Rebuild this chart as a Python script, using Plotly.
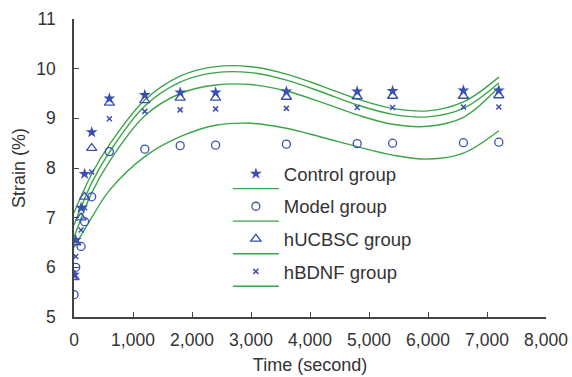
import plotly.graph_objects as go

# Measurement times (seconds)
times = [0, 30, 120, 180, 300, 600, 1200, 1800, 2400, 3600, 4800, 5400, 6600, 7200]

control = [5.85, 6.55, 7.2, 7.88, 8.72, 9.4, 9.47, 9.52, 9.52, 9.54, 9.54, 9.55, 9.56, 9.56]
model = [5.45, 6.0, 6.42, 6.92, 7.42, 8.33, 8.38, 8.45, 8.46, 8.48, 8.49, 8.5, 8.51, 8.52]
hucbsc = [5.8, 6.5, 7.0, 7.42, 8.4, 9.31, 9.36, 9.41, 9.41, 9.43, 9.44, 9.45, 9.45, 9.46]
hbdnf = [5.85, 6.22, 6.75, 7.2, 7.92, 8.99, 9.14, 9.17, 9.19, 9.2, 9.22, 9.22, 9.23, 9.23]

# Fitted trend curves
fit_t = [0, 300, 600, 1200, 1800, 2400, 3000, 3600, 4200, 4800, 5400, 6000, 6600, 7200]
fit_control = [7.1, 7.88, 8.47, 9.37, 9.85, 10.04, 10.04, 9.89, 9.65, 9.39, 9.2, 9.15, 9.33, 9.83]
fit_hucbsc = [6.85, 7.7, 8.32, 9.25, 9.73, 9.92, 9.92, 9.77, 9.53, 9.27, 9.08, 9.03, 9.2, 9.71]
fit_hbdnf = [6.6, 7.5, 8.13, 9.05, 9.5, 9.67, 9.68, 9.55, 9.32, 9.07, 8.88, 8.84, 9.02, 9.63]
fit_model = [6.4, 7.0, 7.55, 8.23, 8.63, 8.86, 8.9, 8.8, 8.62, 8.43, 8.26, 8.18, 8.3, 8.75]

x_ticks = [0, 1000, 2000, 3000, 4000, 5000, 6000, 7000, 8000]
x_labels = ["0", "1,000", "2,000", "3,000", "4,000", "5,000", "6,000", "7,000", "8,000"]
y_ticks = [5, 6, 7, 8, 9, 10, 11]

BLUE = "#3b4fb3"
GREEN = "#3aa648"
FONT = "Liberation Sans, Arial, sans-serif"
TXT = "#333333"

groups = [
    ("Control group", control, fit_control, dict(symbol="star", size=9, color=BLUE)),
    ("Model group", model, fit_model, dict(symbol="circle-open", size=8, color=BLUE, line=dict(width=1.3, color=BLUE))),
    ("hUCBSC group", hucbsc, fit_hucbsc, dict(symbol="triangle-up-open", size=9, color=BLUE, line=dict(width=1.3, color=BLUE))),
    ("hBDNF group", hbdnf, fit_hbdnf, dict(symbol="x-thin", size=5, color=BLUE, line=dict(width=1.5, color=BLUE))),
]

fig = go.Figure()
for i, (name, vals, fit, mk) in enumerate(groups):
    fig.add_trace(go.Scatter(x=fit_t, y=fit, mode="lines", line=dict(color=GREEN, width=1.4, shape="spline", smoothing=1.0),
                             name="\u00a0", legend="legend2", legendgroup="l%d" % i, showlegend=True))
for i, (name, vals, fit, mk) in enumerate(groups):
    fig.add_trace(go.Scatter(x=times, y=vals, mode="markers", marker=mk, name=name,
                             legend="legend", legendgroup="m%d" % i))

fig.update_layout(
    width=572, height=377,
    margin=dict(l=73.5, r=26.3, t=19, b=59.5),
    plot_bgcolor="white", paper_bgcolor="white",
    font=dict(family=FONT, size=17.5, color=TXT),
    legend=dict(x=0.326, y=0.543, xanchor="left", yanchor="top", bgcolor="rgba(0,0,0,0)",
                font=dict(size=18.5, color=TXT), tracegroupgap=5.5, traceorder="grouped", itemwidth=46),
    legend2=dict(x=0.326, y=0.493, xanchor="left", yanchor="top", bgcolor="rgba(0,0,0,0)",
                 font=dict(size=18.5, color=TXT), tracegroupgap=5.5, traceorder="grouped", itemwidth=46),
    xaxis=dict(range=[0, 8000], tickvals=x_ticks, ticktext=x_labels, ticks="inside", ticklen=5,
               tickcolor="#444", linecolor="#444", linewidth=1.5, showgrid=False, zeroline=False,
               showline=True, ticklabelstandoff=6, automargin=False, ticklabeloverflow="allow",
               title=dict(text="Time (second)", font=dict(size=18), standoff=10)),
    yaxis=dict(range=[5, 11], tickvals=y_ticks, ticks="inside", ticklen=5,
               tickcolor="#444", linecolor="#444", linewidth=1.5, showgrid=False, zeroline=False,
               showline=True, ticklabelstandoff=13, automargin=False, ticklabeloverflow="allow",
               title=dict(text="Strain (%)", font=dict(size=18), standoff=6)),
)

fig.write_html("out.html", config={"displayModeBar": False},
               post_script="document.body.style.margin='0';document.body.style.overflow='hidden';")
